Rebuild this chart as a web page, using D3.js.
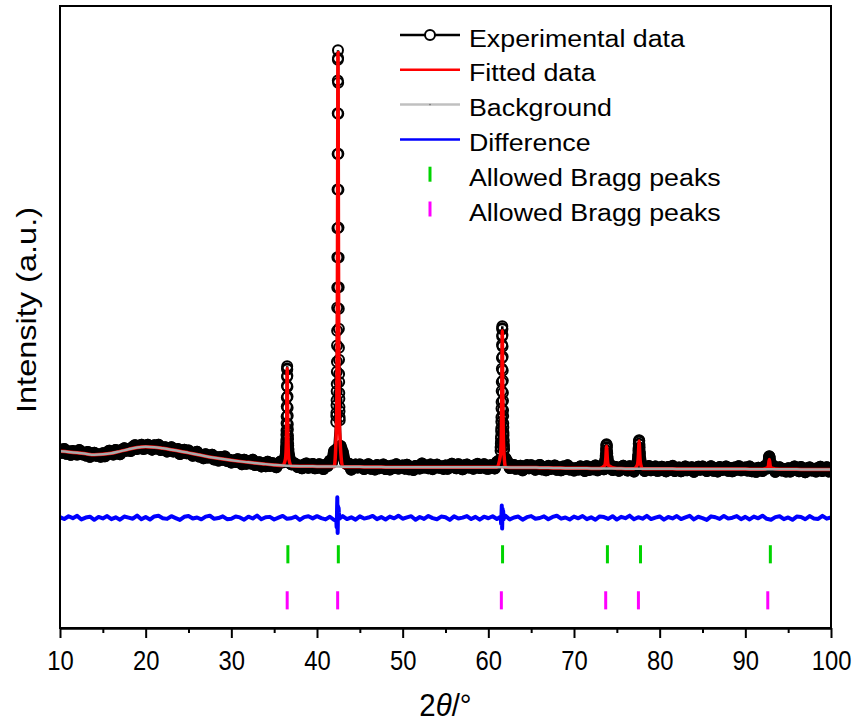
<!DOCTYPE html>
<html>
<head>
<meta charset="utf-8">
<script src="https://cdn.jsdelivr.net/npm/d3@7"></script>
<style>
	body { margin: 0; background: #fff; }
	#chart { width: 857px; height: 722px; }
	text { font-family: "Liberation Sans", Arial, sans-serif; fill: #000; }
</style>
</head>
<body>
<div id="chart"></div>
<script>

// ---- data (2theta in degrees, intensity in counts) ----

// observed pattern, coarse scan 10..100 every 0.25 deg (null = covered by a fine scan)
const obsGridStart = 10, obsGridStep = 0.25;
const obsGrid = [
	1393, 1327, 1404, 1307, 1357, 1286, 1364, 1338, 1290, 1383, 1300, 1334, 1273, 1345, 1245, 1310, 1327, 1266, 1294, 1247,
	1318, 1256, 1338, 1370, 1306, 1291, 1386, 1343, 1299, 1392, 1418, 1368, 1406, 1363, 1450, 1481, 1407, 1432, 1490, 1408,
	1419, 1491, 1456, 1392, 1479, 1416, 1490, 1383, 1433, 1439, 1355, 1400, 1441, 1356, 1364, 1404, 1302, 1373, 1388, 1319,
	1374, 1309, 1266, 1330, 1348, 1250, 1288, 1217, 1298, 1229, 1250, 1289, 1191, 1240, 1168, 1239, 1186, 1253, 1162, 1185,
	1128, 1171, 1140, 1197, 1170, 1095, 1186, 1104, 1155, 1110, 1184, 1080, 1119, 1136, 1050, 1112, 1055, 1144, 1060, 1119,
	1102, 1032, 1104, 1148, 1134, 1198, null, 1247, 1091, 1123, 1097, 1036, 1062, 1010, 1086, 1108, 1023, 1044, 1098, 1012,
	1019, 1093, 1059, 997, 1085, 1058, 1167, 1136, 1361, null, null, 1468, 1345, 1147, 1092, 1104, 984, 1063, 1086, 1025,
	1088, 1031, 996, 1068, 1094, 1004, 1050, 987, 1076, 1014, 1042, 1088, 997, 1053, 988, 1065, 1019, 1092, 1006, 1036,
	1067, 1004, 1083, 990, 1043, 976, 1058, 1037, 1008, 1107, 1029, 1069, 1013, 1090, 994, 1064, 1085, 1022, 1048, 999,
	1068, 1001, 1077, 1104, 1034, 1010, 1095, 1043, 989, 1072, 1087, 1027, 1054, 1002, 1079, 1101, 1017, 1038, 1093, 1007,
	1000, 1074, 1041, 1009, 1138, 1171, null, null, 1215, 1138, 1016, 1032, 1080, 1002, 1018, 1064, 970, 1049, 1072, 1011,
	1075, 1017, 983, 1054, 1080, 989, 1035, 971, 1060, 997, 1025, 1070, 979, 1034, 969, 1046, 999, 1071, 986, 1015,
	964, 1013, 986, 1049, 1028, 958, 1053, 976, 1032, 992, 1069, 970, 1014, 1050, 992, null, null, 1079, 978, 1041,
	1027, 960, 1036, 1062, 992, 968, 1053, 1000, 946, 1069, null, null, 1055, 958, 1035, 1056, 972, 993, 1048, 961,
	969, 1043, 1010, 948, 1037, 980, 1060, 958, 1014, 1027, 950, 1002, 1050, 972, 987, 1034, 940, 1019, 1043, 982,
	1046, 989, 955, 1026, 1053, 963, 1010, 946, 1036, 974, 1003, 1049, 959, 1015, 949, 1027, 981, 1054, 969, 998,
	1029, 966, 1045, 952, 1005, 938, 1020, 998, 954, 1053, 1005, null, null, 1066, 939, 1009, 1030, 967, 993, 943,
	1012, 945, 1021, 1047, 977, 953, 1038, 985, 931, 1014, 1029, 968, 995, 943, 1019, 1041, 957, 978, 1032, 946,
	994
];

// fine scans over the reflections
const obsPeak36 = [1236, 1251, 1259, 1290, 1305, 1349, 1371, 1425, 1461, 1533, 1594, 1697, 1784, 1931, 2069, 2271, 2455, 2698, 2878, 3047,
	3093, 3030, 2901, 2676, 2479, 2249, 2086, 1911, 1802, 1679, 1608, 1519, 1475, 1412, 1383, 1335, 1318, 1280, 1270, 1241, 1226];
const obsPeak42 = [1958, 2081, 2147, 2298, 2402, 2585, 2731, 2981, 3188, 3520, 3819, 4290, 4702, 5318, 5911, 6702, 7430, 8262, 8931, 9352,
	9546, 9388, 8884, 8251, 7431, 6697, 5925, 5317, 4709, 4268, 3861, 3471, 3228, 2937, 2771, 2550, 2431, 2262, 2175, 2052, 1991];
const obsPeak61 = [1371, 1432, 1449, 1512, 1538, 1618, 1660, 1768, 1829, 1961, 2052, 2230, 2366, 2590, 2771, 3041, 3262, 3531, 3705, 3872,
	3910, 3849, 3731, 3497, 3288, 3009, 2801, 2551, 2392, 2198, 2081, 1930, 1851, 1742, 1685, 1596, 1560, 1489, 1468, 1411, 1392];
const obsPeak73 = [1098, 1131, 1140, 1181, 1197, 1262, 1301, 1378, 1425, 1489, 1500, 1476, 1439, 1360, 1316, 1246, 1215, 1168, 1152, 1116, 1110];
const obsPeak77 = [1124, 1133, 1171, 1190, 1251, 1287, 1368, 1421, 1511, 1555, 1582, 1571, 1495, 1438, 1349, 1301, 1232, 1206, 1159, 1146, 1112];
const obsPeak92 = [1051, 1060, 1072, 1087, 1093, 1131, 1148, 1192, 1214, 1250, 1256, 1240, 1226, 1178, 1160, 1117, 1106, 1075, 1070, 1049, 1047];

// fitted profile over the reflections
const calcPeak36 = [1201, 1231, 1272, 1328, 1407, 1522, 1699, 1969, 2360, 2814, 3046, 2814, 2360, 1969, 1699, 1522, 1407, 1328, 1272, 1231, 1201];
const calcPeak42 = [1744, 1891, 2085, 2356, 2736, 3285, 4088, 5271, 6893, 8651, 9496, 8651, 6893, 5271, 4088, 3285, 2736, 2356, 2085, 1891, 1744];
const calcPeak61 = [1297, 1352, 1427, 1525, 1664, 1860, 2141, 2538, 3054, 3581, 3821, 3581, 3054, 2538, 2141, 1860, 1664, 1525, 1427, 1352, 1297];
const calcPeak73 = [1070, 1098, 1147, 1235, 1371, 1462, 1371, 1235, 1147, 1098, 1070];
const calcPeak77 = [1081, 1116, 1177, 1286, 1455, 1568, 1455, 1286, 1177, 1116, 1081];
const calcPeak92 = [1019, 1031, 1052, 1090, 1149, 1188, 1149, 1090, 1052, 1031, 1019];

// background, one value per degree 10..100
const bgStart = 10, bgStep = 1;
const bgKnots = [
	1358, 1345, 1328, 1306, 1288, 1296, 1318, 1356, 1398, 1436,
	1450, 1442, 1418, 1390, 1360, 1326, 1292, 1258, 1228, 1200,
	1175, 1152, 1132, 1113, 1096, 1080, 1066, 1058, 1054, 1052,
	1050, 1048, 1046, 1044, 1042, 1040, 1038, 1036, 1034, 1033,
	1032, 1031, 1031, 1031, 1031, 1031, 1031, 1031, 1031, 1031,
	1031, 1031, 1030, 1029, 1028, 1027, 1024, 1020, 1016, 1013,
	1011, 1010, 1009, 1008, 1007, 1005, 1004, 1003, 1002, 1001,
	1000, 1000, 999, 999, 998, 998, 997, 996, 996, 995,
	994, 993, 992, 992, 991, 990, 989, 988, 987, 986,
	984
];

// difference (obs - calc), every 0.5 deg, plus fine scans at the two strong misfits
const diffGridStart = 10, diffGridStep = 0.5;
const diffGrid = [
	12, -25, 31, -8, 40, -33, 5, 22, -41, 18, -12, 35, -27, 9, -38, 26, 3, -19, 44, -30,
	15, -36, 28, 41, -10, -22, 33, -5, -43, 20, 37, -15, 7, -31, 24, 42, -20, -6, 30, -28,
	-18, 27, 8, -39, 23, -14, 45, -29, 11, 19, -35, 2, 38, -21, -9, 26, -44, 14, 32, -12,
	34, -7, -32, 21, -45, null, 36, -25, 10, -37, 29, -16, 5, 39, -27, 14, -34, 24, -11, 43,
	-19, 8, 33, -40, 17, -23, 38, -6, -30, 25, 12, -42, 29, -15, 3, 36, -26, 19, -37, 22,
	-9, 31, -24, null, 41, -33, 7, 26, -38, 13, 35, -20, -4, 30, -29, 18, 42, -17, 6, -35,
	24, -11, 37, -27, 9, -40, 28, 15, -22, 33, -36, 20, -8, 44, -31, 12, -19, 39, -25, 4,
	27, -37, 16, -13, 35, -26, 8, 41, -33, 21, -6, -42, 30, 11, -24, 38, -16, 2, 34, -29,
	19, -34, 26, -10, 43, -21, -38, 14, 32, -27, 7, -41, 25, 17, -30, 36, -12, -23, 40, -18,
	10
];
const diffPeak42 = [-40, -120, -190, -110, 60, 260, 420, 90, -310, -150, 240, 180, 150, 210, 190, 110, 80, 30, -20, 25, -10];
const diffPeak61 = [20, -30, -60, -120, -80, 40, 150, 250, 60, -220, -90, 130, 180, 120, 90, 140, 60, 20, -30, 15, -10];

// reflection positions of the two phases
const braggGreen = [36.60, 42.49, 61.66, 73.90, 77.76, 92.92];
const braggMagenta = [36.52, 42.41, 61.52, 73.70, 77.52, 92.62];

const xTicks = [10, 20, 30, 40, 50, 60, 70, 80, 90, 100];
const xMinorTicks = [15, 25, 35, 45, 55, 65, 75, 85, 95];
const legendLabels = ["Experimental data", "Fitted data", "Background", "Difference", "Allowed Bragg peaks", "Allowed Bragg peaks"];


class XrdChart {

	constructor(parentElement) {
		this.parentElement = parentElement;
		this.initVis();
	}

	initVis() {
		let vis = this;

		vis.W = 857;
		vis.H = 722;
		vis.margin = {top: 6, right: 26, bottom: 94, left: 60};
		vis.width = vis.W - vis.margin.left - vis.margin.right;
		vis.height = vis.H - vis.margin.top - vis.margin.bottom;

		vis.svg = d3.select("#" + vis.parentElement).append("svg")
			.attr("width", vis.W)
			.attr("height", vis.H);

		vis.g = vis.svg.append("g")
			.attr("transform", "translate(" + vis.margin.left + "," + vis.margin.top + ")");

		vis.x = d3.scaleLinear().domain([10, 100]).range([0, vis.width]);
		vis.y = d3.scaleLinear().domain([-2250, 10450]).range([vis.height, 0]);

		vis.g.append("defs").append("clipPath")
			.attr("id", "clip")
			.append("rect")
			.attr("width", vis.width)
			.attr("height", vis.height);

		vis.wrangleData();
	}

	wrangleData() {
		let vis = this;

		let fromGrid = (start, step, values) => values
			.map((v, i) => ({t: +(start + i * step).toFixed(3), v: v}))
			.filter(d => d.v !== null);

		let scans = [
			{start: 36.32, obs: obsPeak36, obsStep: 0.01, calc: calcPeak36, calcStep: 0.02},
			{start: 42.25, obs: obsPeak42, obsStep: 0.01, calc: calcPeak42, calcStep: 0.02, diff: diffPeak42},
			{start: 61.43, obs: obsPeak61, obsStep: 0.01, calc: calcPeak61, calcStep: 0.02, diff: diffPeak61},
			{start: 73.60, obs: obsPeak73, obsStep: 0.02, calc: calcPeak73, calcStep: 0.04},
			{start: 77.40, obs: obsPeak77, obsStep: 0.02, calc: calcPeak77, calcStep: 0.04},
			{start: 92.60, obs: obsPeak92, obsStep: 0.02, calc: calcPeak92, calcStep: 0.04}
		];

		let byAngle = (a, b) => d3.ascending(a.t, b.t);

		// observed
		vis.obsCoarse = fromGrid(obsGridStart, obsGridStep, obsGrid);
		vis.obs = vis.obsCoarse.slice();
		scans.forEach(s => { vis.obs = vis.obs.concat(fromGrid(s.start, s.obsStep, s.obs)); });
		vis.obs.sort(byAngle);

		// background
		vis.bg = fromGrid(bgStart, bgStep, bgKnots);

		// fitted = background knots outside the reflections + fitted profiles
		let calcScans = scans.map(s => fromGrid(s.start, s.calcStep, s.calc));
		vis.calc = vis.bg.filter(d => !calcScans.some(c => d.t >= c[0].t && d.t <= c[c.length - 1].t));
		calcScans.forEach(c => { vis.calc = vis.calc.concat(c); });
		vis.calc.sort(byAngle);

		// difference
		vis.diff = fromGrid(diffGridStart, diffGridStep, diffGrid);
		scans.filter(s => s.diff).forEach(s => { vis.diff = vis.diff.concat(fromGrid(s.start, 0.02, s.diff)); });
		vis.diff.sort(byAngle);

		vis.updateVis();
	}

	updateVis() {
		let vis = this;

		let stretch = (sel, k) => sel.each(function() {
			let len = this.getComputedTextLength();
			d3.select(this).attr("textLength", len * k).attr("lengthAdjust", "spacingAndGlyphs");
		});

		let plot = vis.g.append("g").attr("clip-path", "url(#clip)");

		let lineLinear = d3.line().x(d => vis.x(d.t)).y(d => vis.y(d.v));
		let lineSmooth = d3.line().curve(d3.curveMonotoneX).x(d => vis.x(d.t)).y(d => vis.y(d.v));

		// experimental: the coarse scan is so dense that symbols merge into a solid band
		plot.append("path")
			.datum(vis.obsCoarse)
			.attr("d", lineLinear)
			.attr("fill", "none")
			.attr("stroke", "#000")
			.attr("stroke-width", 12)
			.attr("stroke-linejoin", "round")
			.attr("stroke-linecap", "round");

		plot.append("path")
			.datum(vis.obs)
			.attr("d", lineLinear)
			.attr("fill", "none")
			.attr("stroke", "#000")
			.attr("stroke-width", 2.5);

		plot.append("g")
			.selectAll("circle")
			.data(vis.obs)
			.enter().append("circle")
			.attr("cx", d => vis.x(d.t))
			.attr("cy", d => vis.y(d.v))
			.attr("r", 5)
			.attr("fill", "none")
			.attr("stroke", "#000")
			.attr("stroke-width", 2);

		// fitted
		plot.append("path")
			.datum(vis.calc)
			.attr("d", lineSmooth)
			.attr("fill", "none")
			.attr("stroke", "#ff0000")
			.attr("stroke-width", 3.5);

		// background
		plot.append("path")
			.datum(vis.bg)
			.attr("d", lineSmooth)
			.attr("fill", "none")
			.attr("stroke", "#a9a9a9")
			.attr("stroke-width", 2.5);

		// difference
		plot.append("path")
			.datum(vis.diff)
			.attr("d", lineLinear)
			.attr("fill", "none")
			.attr("stroke", "#0000ff")
			.attr("stroke-width", 4)
			.attr("stroke-linejoin", "round");

		// Bragg positions (two rows)
		let braggRows = [
			{pos: braggGreen, color: "#00d400", band: [-560, -930]},
			{pos: braggMagenta, color: "#ff00ff", band: [-1500, -1870]}
		];
		braggRows.forEach(row => {
			plot.append("g")
				.selectAll("line")
				.data(row.pos)
				.enter().append("line")
				.attr("x1", d => vis.x(d))
				.attr("x2", d => vis.x(d))
				.attr("y1", vis.y(row.band[0]))
				.attr("y2", vis.y(row.band[1]))
				.attr("stroke", row.color)
				.attr("stroke-width", 3);
		});

		// frame
		vis.g.append("rect")
			.attr("width", vis.width)
			.attr("height", vis.height)
			.attr("fill", "none")
			.attr("stroke", "#000")
			.attr("stroke-width", 2);

		// x axis
		vis.xAxis = d3.axisBottom(vis.x)
			.tickValues(xTicks)
			.tickSize(10)
			.tickSizeOuter(0)
			.tickFormat(d3.format("d"));

		let xg = vis.g.append("g")
			.attr("class", "x-axis axis")
			.attr("transform", "translate(0," + vis.height + ")")
			.call(vis.xAxis);
		xg.select(".domain").attr("stroke-width", 2.5);
		xg.selectAll(".tick line").attr("stroke-width", 2);
		xg.selectAll("text")
			.attr("y", 42)
			.attr("dy", 0)
			.attr("font-family", "Liberation Sans, Arial, sans-serif")
			.attr("font-size", 28)
			.attr("fill", "#000")
			.call(stretch, 0.85);

		vis.g.append("g")
			.attr("class", "x-axis-minor axis")
			.attr("transform", "translate(0," + vis.height + ")")
			.call(d3.axisBottom(vis.x).tickValues(xMinorTicks).tickSize(5).tickSizeOuter(0).tickFormat(""))
			.call(a => a.select(".domain").remove())
			.selectAll(".tick line").attr("stroke-width", 2);

		// axis titles
		let xt = vis.svg.append("text")
			.attr("x", vis.margin.left + vis.width / 2)
			.attr("y", 716)
			.attr("text-anchor", "middle")
			.attr("font-size", 32);
		xt.append("tspan").text("2");
		xt.append("tspan").attr("font-style", "italic").text("\u03B8");
		xt.append("tspan").text("/\u00B0");
		xt.call(stretch, 0.92);

		vis.svg.append("text")
			.attr("transform", "translate(36," + 310 + ") rotate(-90)")
			.attr("text-anchor", "middle")
			.attr("font-size", 28.5)
			.text("Intensity (a.u.)")
			.attr("textLength", 206)
			.attr("lengthAdjust", "spacingAndGlyphs");

		// legend
		let lg = vis.svg.append("g").attr("class", "legend");
		let rowY = i => 35 + i * 34.8;
		let lx0 = 400, lx1 = 460, lxc = 430, ltx = 469;

		lg.append("line").attr("x1", lx0).attr("x2", lx1).attr("y1", rowY(0)).attr("y2", rowY(0))
			.attr("stroke", "#000").attr("stroke-width", 2.5);
		lg.append("circle").attr("cx", lxc).attr("cy", rowY(0)).attr("r", 5)
			.attr("fill", "#fff").attr("stroke", "#000").attr("stroke-width", 2);
		lg.append("line").attr("x1", lx0).attr("x2", lx1).attr("y1", rowY(1)).attr("y2", rowY(1))
			.attr("stroke", "#ff0000").attr("stroke-width", 2.5);
		lg.append("line").attr("x1", lx0).attr("x2", lx1).attr("y1", rowY(2)).attr("y2", rowY(2))
			.attr("stroke", "#c0c0c0").attr("stroke-width", 2.5);
		lg.append("circle").attr("cx", lxc).attr("cy", rowY(2)).attr("r", 0.8).attr("fill", "#707070");
		lg.append("line").attr("x1", lx0).attr("x2", lx1).attr("y1", rowY(3)).attr("y2", rowY(3))
			.attr("stroke", "#0000ff").attr("stroke-width", 2.5);
		lg.append("line").attr("x1", lxc).attr("x2", lxc).attr("y1", rowY(4) - 7.5).attr("y2", rowY(4) + 7.5)
			.attr("stroke", "#00d400").attr("stroke-width", 3);
		lg.append("line").attr("x1", lxc).attr("x2", lxc).attr("y1", rowY(5) - 7.5).attr("y2", rowY(5) + 7.5)
			.attr("stroke", "#ff00ff").attr("stroke-width", 3);

		lg.selectAll("text")
			.data(legendLabels)
			.enter().append("text")
			.attr("x", ltx)
			.attr("y", (d, i) => rowY(i) + 11.5)
			.attr("font-size", 23.5)
			.text(d => d)
			.call(stretch, 1.14);
	}
}

new XrdChart("chart");

</script>
</body>
</html>
